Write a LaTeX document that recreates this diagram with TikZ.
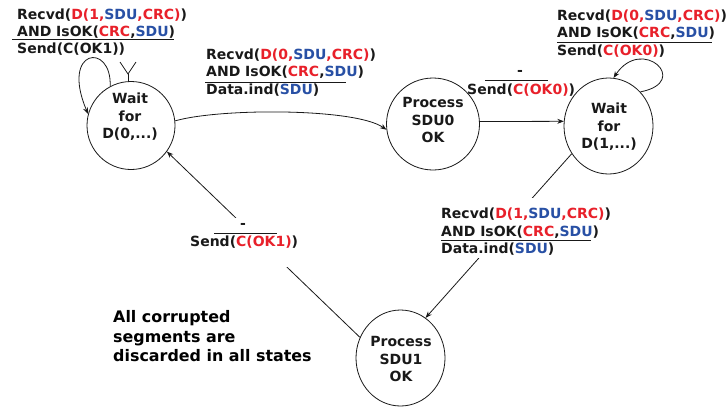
\documentclass[tikz,border=0pt]{standalone}
\usepackage{fontspec}
\setmainfont{DejaVu Sans}
\usetikzlibrary{shapes.geometric,arrows.meta}
\definecolor{cred}{RGB}{232,32,42}
\definecolor{cblue}{RGB}{40,80,165}
\definecolor{ink}{RGB}{25,25,25}
\newcommand{\rd}[1]{\textcolor{cred}{#1}}
\newcommand{\bl}[1]{\textcolor{cblue}{#1}}
\begin{document}
\begin{tikzpicture}[x=1pt,y=-1pt,
  state/.style={ellipse,draw=ink,line width=0.8pt,inner sep=0pt},
  stxt/.style={align=center,font=\bfseries\fontsize{14.0}{17.5}\selectfont,text=ink,inner sep=0pt},
  lbl/.style={anchor=base west,font=\bfseries\fontsize{14.0}{17.5}\selectfont,text=ink,inner sep=0pt},
  dashlbl/.style={anchor=base,font=\bfseries\fontsize{14.0}{17.5}\selectfont,text=ink,inner sep=0pt},
  note/.style={anchor=base west,font=\bfseries\fontsize{15.9}{19.5}\selectfont,text=black,inner sep=0pt},
  arr/.style={draw=ink,line width=0.8pt,-{Stealth[length=6.5pt,width=5pt]}},
  plain/.style={draw=ink,line width=0.8pt},
  rulel/.style={draw=ink,line width=0.9pt},
  wbox/.style={fill=white,draw=none,inner sep=0pt,anchor=north west}]
\fill[white] (0,0) rectangle (727,407);
\useasboundingbox (0,0) rectangle (727,407);
% states
\node[state,minimum width=88pt,minimum height=88pt] (A) at (131,125.5) {};
\node[state,minimum width=93pt,minimum height=92pt] (B) at (433,124) {};
\node[state,minimum width=89pt,minimum height=96pt] (C) at (608.5,126) {};
\node[state,minimum width=89pt,minimum height=96pt] (D) at (400.5,358) {};
\node[stxt] (At) at (130,117) {Wait\\for\\D(0,...)};
\node[stxt] (Bt) at (433,120) {Process\\SDU0\\OK};
\node[stxt] (Ct) at (609,127) {Wait\\for\\D(1,...)};
\node[stxt] (Dt) at (401,359) {Process\\SDU1\\OK};
% connectors
\draw[arr] (A.118) .. controls (112,42) and (60,48) .. (A.165);
\coordinate (V) at (128,74);
\draw[plain] (120,62) -- (V) -- (136,62);
\draw[plain] (V) -- (V |- A.north);
\draw[arr] (A.6) .. controls (220,108) and (355,108) .. (B.187);
\draw[arr] (B.3) -- (C.174);
\draw[arr] (C.47) .. controls (692,82) and (642,35) .. (C.84);
\draw[arr] (C.217) -- (D.58);
\draw[arr] (D.153) -- (A.-36);
% label 1
\node[lbl] (L1a) at (17,19) {Recvd(\rd{D(1,}\bl{SDU}\rd{,CRC)})};
\node[lbl] (L1b) at (17,36) {AND IsOK(\rd{CRC},\bl{SDU})};
\draw[rulel] (12,39) -- (174,39);
\node[lbl] (L1c) at (17,53) {Send(C(OK1))};
% label 2
\node[lbl] (L2a) at (206,59.3) {Recvd(\rd{D(0,}\bl{SDU}\rd{,CRC)})};
\node[lbl] (L2b) at (206,76.7) {AND IsOK(\rd{CRC},\bl{SDU})};
\draw[rulel] (205,82) -- (346,82);
\node[lbl] (L2c) at (206,94.3) {Data.ind(\bl{SDU})};
% label 3
\node[lbl] (L3a) at (557,20) {Recvd(\rd{D(0,}\bl{SDU}\rd{,CRC)})};
\node[lbl] (L3b) at (557,37.7) {AND IsOK(\rd{CRC},\bl{SDU})};
\draw[rulel] (557,42.3) -- (712,42.3);
\node[lbl] (L3c) at (557,55) {Send(\rd{C(OK0)})};
% label 4
\node[dashlbl] (L4a) at (520,75) {-};
\draw[rulel] (485,80.7) -- (548,80.7);
\node[lbl] (L4b) at (467,94) {Send(\rd{C(OK0)})};
% label 5
\node[wbox,minimum width=112pt,minimum height=49pt] (L5bg) at (188,218) {};
\node[dashlbl] (L5a) at (243,228) {-};
\draw[rulel] (214,233) -- (277,233);
\node[lbl] (L5b) at (190,246.7) {Send(\rd{C(OK1)})};
% label 6
\node[wbox,minimum width=170pt,minimum height=60pt] (L6bg) at (438,198) {};
\node[lbl] (L6a) at (441,218.3) {Recvd(\rd{D(1,}\bl{SDU}\rd{,CRC)})};
\node[lbl] (L6b) at (441,236) {AND IsOK(\rd{CRC},\bl{SDU})};
\draw[rulel] (441,240) -- (591,240);
\node[lbl] (L6c) at (441,253.3) {Data.ind(\bl{SDU})};
% note
\node[note] (N1) at (113,322.3) {All corrupted};
\node[note] (N2) at (113,342.3) {segments are};
\node[note] (N3) at (113,361) {discarded in all states};
\end{tikzpicture}
\end{document}
